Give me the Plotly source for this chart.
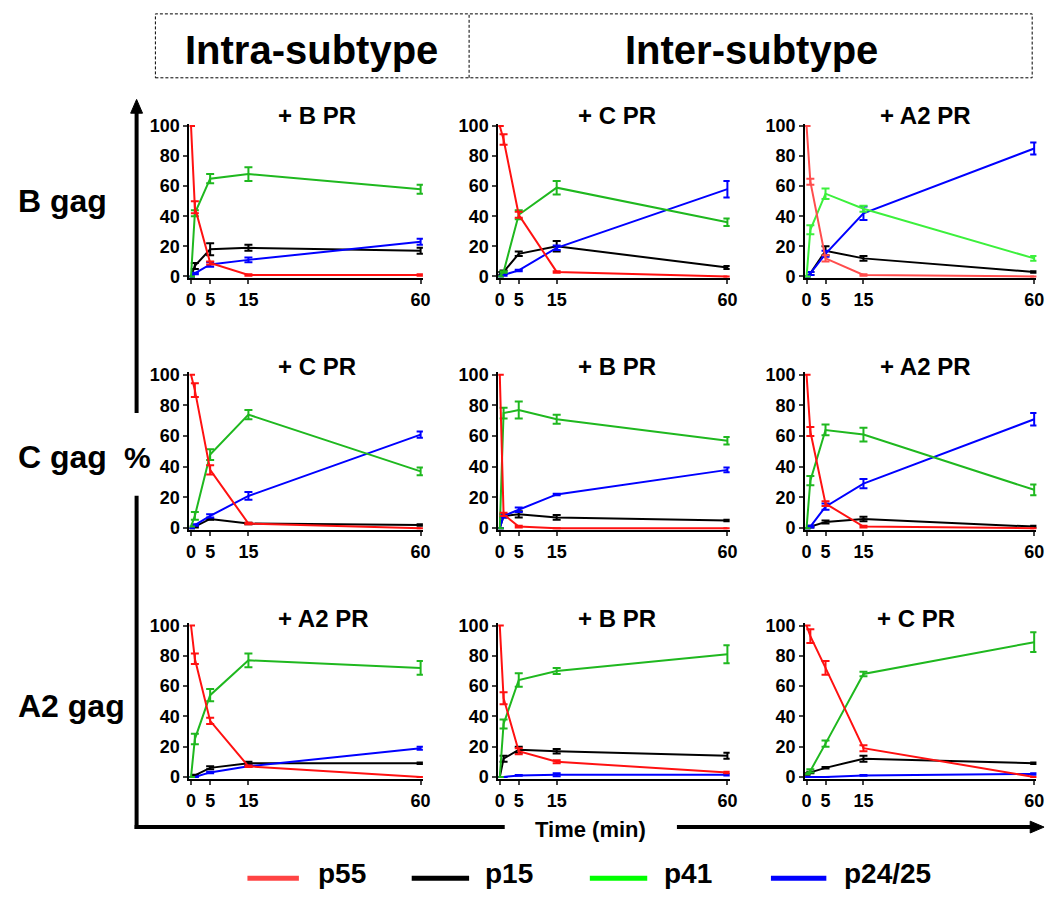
import plotly.graph_objects as go

W, H = 1058, 899

# ---------------- data ----------------
time_min = [0, 1, 5, 15, 60]
x_ticks = [0, 5, 15, 60]
y_ticks = [0, 20, 40, 60, 80, 100]
series = ["p55", "p15", "p41", "p24/25"]
row_labels = ["B gag", "C gag", "A2 gag"]
group_labels = ["Intra-subtype", "Inter-subtype"]
panel_titles = [["+ B PR", "+ C PR", "+ A2 PR"],
                ["+ C PR", "+ B PR", "+ A2 PR"],
                ["+ A2 PR", "+ B PR", "+ C PR"]]
x_title = "Time (min)"
y_title = "%"

# each panel: rows = p55, p15, p41, p24/25 ; columns = time points
b_gag_b_pr = [[100, 46, 9, 1, 1], [0, 7, 18, 19, 17], [0, 42, 65, 68, 58], [0, 2, 8, 11, 23]]
b_gag_b_pr_err = [[0, 4, 1, 0.5, 0.5], [0, 2, 4, 2, 2], [0, 2, 3, 4.5, 3], [0, 0.5, 1.5, 1.5, 2]]

b_gag_c_pr = [[100, 91, 41, 3, 0], [2, 3, 15, 20, 6], [0, 3, 41, 59, 36], [0, 1, 4, 19, 58]]
b_gag_c_pr_err = [[0, 3.5, 2, 0.5, 0], [1, 1, 1.5, 3.5, 1], [0, 0.5, 3, 4.5, 2.5], [0, 0.5, 0.5, 1.5, 5.5]]

b_gag_a2_pr = [[100, 63, 12, 1, 0], [0, 2, 17, 12, 3], [0, 31, 55, 45, 12], [0, 2, 15, 42, 85]]
b_gag_a2_pr_err = [[0, 2, 2, 0.5, 0], [0, 1, 3, 1.5, 0.5], [0, 3, 3.5, 2, 1.5], [0, 1, 2, 4.5, 4]]

c_gag_c_pr = [[100, 90, 38, 3, 0], [0, 1, 6, 3, 2], [1, 8, 48, 74, 37], [0, 2, 8, 21, 61]]
c_gag_c_pr_err = [[0, 4.5, 3, 0.5, 0], [0, 0.5, 0.5, 0.5, 0.5], [0, 2.5, 3.5, 3, 2.5], [0, 0.5, 1, 2.5, 2]]

c_gag_b_pr = [[100, 9, 1, 0, 0], [0, 8, 9, 7, 5], [0, 75, 77, 71, 57], [0, 8, 12, 22, 38]]
c_gag_b_pr_err = [[0, 1, 0.5, 0, 0], [0, 1, 2, 1.5, 0.5], [0, 3.5, 5.5, 3, 2.5], [0, 1, 1.5, 0.5, 1.5]]

c_gag_a2_pr = [[100, 63, 16, 1, 0], [0, 1, 4, 6, 1], [0, 31, 64, 61, 25], [0, 1, 14, 29, 71]]
c_gag_a2_pr_err = [[0, 3, 1.5, 0.5, 0], [0, 0.5, 1, 1.5, 0.5], [0, 3, 3.5, 4.5, 3.5], [0, 0.5, 2, 3, 4]]

a2_gag_a2_pr = [[100, 78, 37, 7, 0], [0, 1, 6, 9, 9], [0, 25, 54, 77, 72], [0, 0, 3, 7, 19]]
a2_gag_a2_pr_err = [[0, 3.5, 2, 0.5, 0], [0, 0.5, 1, 1, 0.5], [0, 3.5, 4, 4.5, 4.5], [0, 0, 0.5, 0.5, 1]]

a2_gag_b_pr = [[100, 52, 17, 10, 3], [0, 12, 18, 17, 14], [0, 35, 64, 70, 81], [0, 0, 1, 1.5, 1.5]]
a2_gag_b_pr_err = [[0, 4, 2, 1, 0.5], [0, 2, 2, 1.5, 2], [0, 3, 4.5, 2, 6], [0, 0, 0.3, 1, 0.5]]

a2_gag_c_pr = [[100, 93, 72, 19, 0], [2, 3, 6, 12, 9], [2, 4, 22, 68, 89], [0, 0, 0, 1, 2]]
a2_gag_c_pr_err = [[0, 4.5, 4.5, 2, 0], [0.5, 0.5, 0.5, 2, 0.5], [0, 1, 2, 1.5, 6.5], [0, 0, 0, 0.3, 0.5]]

panels = [[(b_gag_b_pr, b_gag_b_pr_err), (b_gag_c_pr, b_gag_c_pr_err), (b_gag_a2_pr, b_gag_a2_pr_err)],
          [(c_gag_c_pr, c_gag_c_pr_err), (c_gag_b_pr, c_gag_b_pr_err), (c_gag_a2_pr, c_gag_a2_pr_err)],
          [(a2_gag_a2_pr, a2_gag_a2_pr_err), (a2_gag_b_pr, a2_gag_b_pr_err), (a2_gag_c_pr, a2_gag_c_pr_err)]]

# ---------------- style ----------------
FONT = "Liberation Sans, Arial, Helvetica, sans-serif"
line_colors = ["#ff1111", "#000000", "#1fb81f", "#0000ff"]
bright_colors = ["#ff4d4d", "#000000", "#3cf03c", "#0000ff"]
legend_colors = ["#ff4444", "#000000", "#00ff00", "#0000ff"]

# pixel anchors of value 0 / 100 (rows) and 0 / 60 (cols)
row_px = [(274, 121), (530, 374), (783, 629)]
col_px = [(190, 422), (502, 732), (812, 1042)]
title_px = [[(317, 110), (620, 110), (932, 110)],
            [(317, 366), (620, 366), (932, 366)],
            [(323, 622), (620, 622), (923, 622)]]
XR = [-0.4, 60.6]
YR = [-1.3, 101.5]


def px_domain(p0, p1, v0, v1, r0, r1):
    s = (p1 - p0) / (v1 - v0)
    return p0 + (r0 - v0) * s, p0 + (r1 - v0) * s


fig = go.Figure()
layout = dict(width=W, height=H, autosize=False, margin=dict(l=0, r=0, t=0, b=0),
              paper_bgcolor="white", plot_bgcolor="white", showlegend=False,
              font=dict(family=FONT, color="black"))
annotations = []
shapes = []

tickfont = dict(family=FONT, size=18, color="black", weight="bold")

for r in range(3):
    for c in range(3):
        k = r * 3 + c + 1
        xs = "x" if k == 1 else f"x{k}"
        ys = "y" if k == 1 else f"y{k}"
        xa = "xaxis" if k == 1 else f"xaxis{k}"
        ya = "yaxis" if k == 1 else f"yaxis{k}"
        xd0, xd1 = px_domain(col_px[c][0], col_px[c][1], 0, 60, XR[0], XR[1])
        yd0, yd1 = px_domain(row_px[r][0], row_px[r][1], 0, 100, YR[0], YR[1])
        layout[xa] = dict(domain=[xd0 / W, xd1 / W], range=XR, anchor=ys,
                          tickvals=x_ticks, ticks="outside", ticklen=4, tickwidth=2,
                          showline=True, linewidth=2, linecolor="black",
                          showgrid=False, zeroline=False, tickfont=tickfont,
                          layer="below traces")
        layout[ya] = dict(domain=[1 - yd0 / H, 1 - yd1 / H], range=YR, anchor=xs,
                          tickvals=y_ticks, ticks="outside", ticklen=4, tickwidth=2,
                          showline=True, linewidth=2, linecolor="black",
                          showgrid=False, zeroline=False, tickfont=tickfont,
                          layer="below traces")
        vals, errs = panels[r][c]
        cols = bright_colors if (r == 0 and c == 2) else line_colors
        # draw order: p15, p24/25, p41, p55 on top
        for si in [1, 3, 2, 0]:
            fig.add_trace(go.Scatter(
                x=time_min, y=vals[si], xaxis=xs, yaxis=ys, mode="lines",
                name=series[si], line=dict(color=cols[si], width=2),
                error_y=dict(type="data", array=errs[si], color=cols[si],
                             thickness=2, width=4, visible=True),
                showlegend=False, hoverinfo="skip"))
        tx, ty = title_px[r][c]
        annotations.append(dict(text=panel_titles[r][c], x=tx / W, y=1 - ty / H,
                                xref="paper", yref="paper", showarrow=False,
                                xanchor="center", yanchor="middle",
                                font=dict(family=FONT, size=24, color="black", weight="bold")))

# row labels
for lab, yy in zip(row_labels, [197, 458, 711]):
    annotations.append(dict(text=lab, x=13 / W, y=1 - yy / H, xref="paper", yref="paper",
                            showarrow=False, xanchor="left", yanchor="middle",
                            font=dict(family=FONT, size=32, color="black", weight="bold")))
annotations.append(dict(text=y_title, x=136 / W, y=1 - 458 / H, xref="paper", yref="paper",
                        showarrow=False, xanchor="center", yanchor="middle",
                        font=dict(family=FONT, size=30, color="black", weight="bold")))
annotations.append(dict(text=x_title, x=594 / W, y=1 - 836 / H, xref="paper", yref="paper",
                        showarrow=False, xanchor="center", yanchor="middle",
                        font=dict(family=FONT, size=22, color="black", weight="bold")))

# header box
def P(x, y):
    return x / W, 1 - y / H

hx0, hy0 = P(154, 7)
hx1, hy1 = P(1040, 72)
shapes.append(dict(type="rect", xref="paper", yref="paper", x0=hx0, y0=hy1, x1=hx1, y1=hy0,
                   line=dict(color="black", width=1, dash="3px,2px")))
dx, _ = P(471, 0)
shapes.append(dict(type="line", xref="paper", yref="paper", x0=dx, y0=hy1, x1=dx, y1=hy0,
                   line=dict(color="black", width=1, dash="3px,2px")))
for lab, cx in zip(group_labels, [312, 756]):
    annotations.append(dict(text=lab, x=cx / W, y=1 - 44 / H, xref="paper", yref="paper",
                            showarrow=False, xanchor="center", yanchor="middle",
                            font=dict(family=FONT, size=40, color="black", weight="bold")))

# big L-shaped axis arrows
AW = 4
def seg(x0, y0, x1, y1, w=AW, color="black"):
    a, b = P(x0, y0)
    c_, d = P(x1, y1)
    shapes.append(dict(type="line", xref="paper", yref="paper", x0=a, y0=b, x1=c_, y1=d,
                       line=dict(color=color, width=w)))

seg(135, 106, 135, 413)
seg(135, 497, 135, 836)
seg(133, 834, 507, 834)
seg(681, 834, 1040, 834)

def tri(pts):
    path = "M " + " L ".join(f"{x / W},{1 - y / H}" for x, y in pts) + " Z"
    shapes.append(dict(type="path", xref="paper", yref="paper", path=path,
                       fillcolor="black", line=dict(color="black", width=1)))

tri([(135, 94), (129, 108), (141, 108)])
tri([(1052, 834), (1038, 828), (1038, 840)])

# legend (manual)
leg_lines = [(247, 299), (413, 471), (593, 651), (776, 832)]
leg_text_x = [316, 485, 666, 848]
for i in range(4):
    seg(leg_lines[i][0], 886, leg_lines[i][1], 886, w=5, color=legend_colors[i])
    annotations.append(dict(text=series[i], x=leg_text_x[i] / W, y=1 - 881 / H,
                            xref="paper", yref="paper", showarrow=False,
                            xanchor="left", yanchor="middle",
                            font=dict(family=FONT, size=28, color="black", weight="bold")))

layout["annotations"] = annotations
layout["shapes"] = shapes
fig.update_layout(**layout)
fig.write_html("out.html", config={"displayModeBar": False},
               post_script="document.body.style.margin='0';document.body.style.overflow='hidden';")
